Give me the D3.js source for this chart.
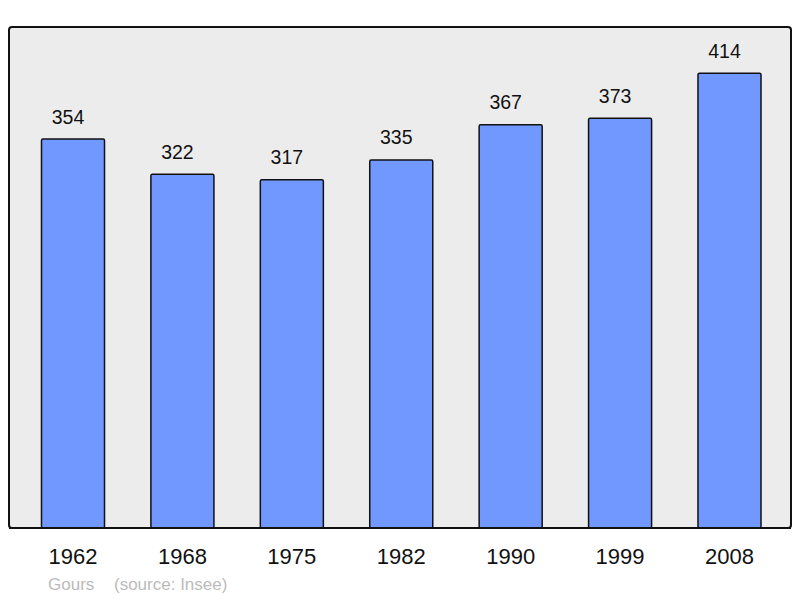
<!DOCTYPE html>
<html>
<head>
<meta charset="utf-8">
<script src="https://cdn.jsdelivr.net/npm/d3@7"></script>
<style>
  body { margin: 0; background: #fff; }
  text { font-family: "Liberation Sans", Arial, sans-serif; }
</style>
</head>
<body>
<script>
// data
const years = ["1962", "1968", "1975", "1982", "1990", "1999", "2008"];
const population = [354, 322, 317, 335, 367, 373, 414];
const townName = "Gours";
const sourceText = "(source: Insee)";

const W = 800, H = 598;
const panel = {left: 9, top: 27, right: 791, bottom: 528};

const svg = d3.select("body").append("svg")
    .attr("width", W)
    .attr("height", H);

// background panel
svg.append("rect")
    .attr("x", panel.left)
    .attr("y", panel.top)
    .attr("width", panel.right - panel.left)
    .attr("height", panel.bottom - panel.top)
    .attr("rx", 3)
    .attr("fill", "#ececec")
    .attr("stroke", "#111")
    .attr("stroke-width", 2);

// scales
const xScale = d3.scaleBand()
    .domain(years)
    .range([18.3, 784.2])
    .paddingInner(0.424)
    .paddingOuter(0.212);

const yScale = d3.scaleLinear()
    .domain([0, 456])
    .range([panel.bottom, panel.top]);

const rows = years.map((y, i) => ({year: y, value: population[i]}));

// bars
svg.selectAll("rect.bar")
    .data(rows)
    .enter()
    .append("rect")
    .attr("class", "bar")
    .attr("x", d => xScale(d.year))
    .attr("y", d => yScale(d.value))
    .attr("width", xScale.bandwidth())
    .attr("height", d => yScale(0) - yScale(d.value))
    .attr("rx", 1.5)
    .attr("fill", "#7098ff")
    .attr("stroke", "#111")
    .attr("stroke-width", 1.5);

// value labels (sit a little left of the bar centre, like the original)
svg.selectAll("text.value")
    .data(rows)
    .enter()
    .append("text")
    .attr("class", "value")
    .attr("x", d => xScale(d.year) + xScale.bandwidth() / 2 - 5)
    .attr("y", d => yScale(d.value) - 15.5)
    .attr("text-anchor", "middle")
    .attr("font-size", 19.5)
    .attr("fill", "#111")
    .text(d => d.value);

// redraw bottom edge of panel above bars
svg.append("line")
    .attr("x1", panel.left)
    .attr("x2", panel.right)
    .attr("y1", panel.bottom)
    .attr("y2", panel.bottom)
    .attr("stroke", "#111")
    .attr("stroke-width", 2);

// x axis labels
const xAxis = d3.axisBottom(xScale).tickSize(0).tickPadding(0);
const xAxisGroup = svg.append("g")
    .attr("transform", `translate(0, ${panel.bottom})`)
    .call(xAxis);
xAxisGroup.select(".domain").remove();
xAxisGroup.selectAll(".tick text")
    .attr("dy", null)
    .attr("y", 36)
    .attr("font-size", 22)
    .attr("font-family", "'Liberation Sans', Arial, sans-serif")
    .attr("fill", "#111");

// footer
svg.append("text")
    .attr("x", 48)
    .attr("y", 590)
    .attr("font-size", 17)
    .attr("fill", "#bbb")
    .text(townName);
svg.append("text")
    .attr("x", 114)
    .attr("y", 590)
    .attr("font-size", 17)
    .attr("fill", "#bbb")
    .text(sourceText);
</script>
</body>
</html>
